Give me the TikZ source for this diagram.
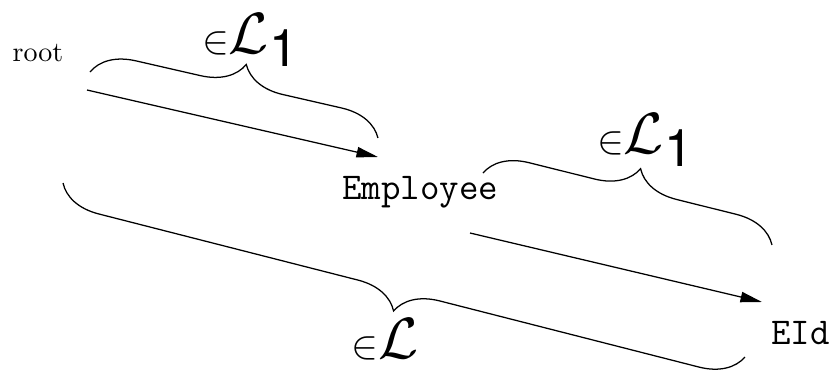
\documentclass[tikz,border=0pt]{standalone}
\usepackage{fontspec}
\newfontfamily\helv{TeX Gyre Heros}
\usetikzlibrary{positioning,arrows.meta,decorations.pathreplacing}

% membership labels over the braces
\newcommand{\memb}{{\fontsize{14}{16}\selectfont$\in$}{\fontsize{21}{24}\selectfont$\mathcal{L}$}}
\newcommand{\membone}{\memb\raisebox{-0.16cm}{\fontsize{18.5}{22}\selectfont\helv 1}}

\begin{document}
\begin{tikzpicture}[x=0.01255cm, y=0.01255cm, line width=0.45pt,
        >={Triangle[length=0.27cm,width=0.13cm]},
        curly/.style={decorate, decoration={brace, amplitude=0.53cm, aspect=#1}},
        path/.style={font=\fontsize{13.5}{16}\selectfont\ttfamily},
        lang/.style={inner sep=0pt}]
    \useasboundingbox (0,0) rectangle (837,373);
    \node (root) at (38,320) {root};
    \node (emp) [path, on grid, below right=1.744cm and 4.794cm of root] {Employee};
    \node (eid) [path, on grid, below right=1.770cm and 4.769cm of emp] {EId};
    % steps
    \coordinate (s1) at (87,283);
    \coordinate (t1) at (378,216);
    \coordinate (s2) at (470,140);
    \coordinate (t2) at (762,71);
    \draw [->] (s1) -- (t1);
    \draw [->] (s2) -- (t2);
    % braces
    \draw [curly=0.51] (90,301) -- (378,235);
    \draw [curly=0.51] (483,200) -- (772,128);
    \draw [curly=0.50] (745,16) -- (63,190);
    \node (l1) [lang] at (250,333) {\membone};
    \node (l2) [lang] at (645,233) {\membone};
    \node (l) [lang] at (385,34) {\memb};
\end{tikzpicture}
\end{document}
